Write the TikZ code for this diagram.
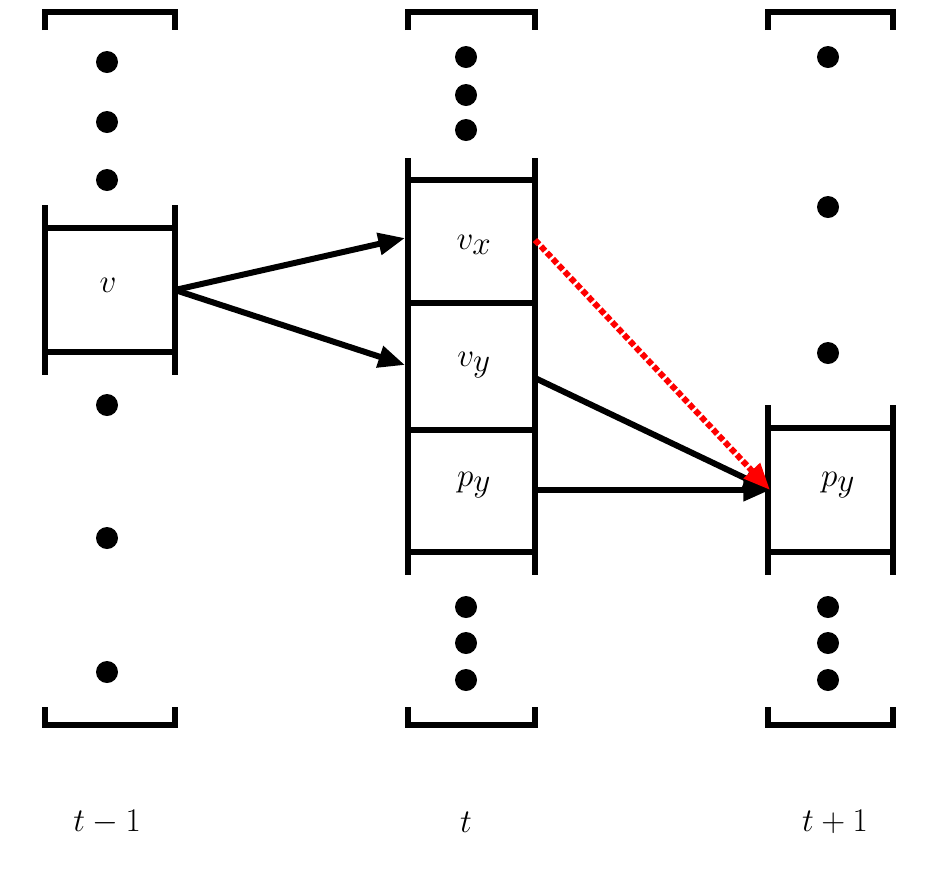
\documentclass[tikz,border=0pt]{standalone}
\usetikzlibrary{arrows.meta}
\tikzset{
  ln/.style={line width=5.2pt},
  dt/.style={fill=black},
  lbl/.style={font=\fontsize{60}{70}\selectfont, inner sep=0pt},
  arr/.style={line width=4.5pt,-{Triangle[length=20pt,width=16pt]}},
  redarr/.style={line width=4.5pt,red,dotted,-{Triangle[length=20pt,width=16pt]}}
}
\begin{document}
\begin{tikzpicture}[x=0.75pt,y=-0.75pt]
\useasboundingbox (0,0) rectangle (944,876);
% brackets
\foreach \a/\b in {45/175,408/535,768/893}{
  \draw[ln] (\a,30) -- (\a,12) -- (\b,12) -- (\b,30);
  \draw[ln] (\a,707) -- (\a,725) -- (\b,725) -- (\b,707);
}
% column 1
\foreach \y in {62,122,180,405,538,672} \fill[dt] (107,\y) circle (11);
\draw[ln] (45,205) -- (45,375); \draw[ln] (175,205) -- (175,375);
\draw[ln] (45,228) -- (175,228); \draw[ln] (45,352) -- (175,352);
\node[lbl] (v) at (108,285) {$v$};
\coordinate (vout) at (175,290);
% column 2
\foreach \y in {57,95,130,607,643,680} \fill[dt] (466,\y) circle (11);
\draw[ln] (408,158) -- (408,575); \draw[ln] (535,158) -- (535,575);
\foreach \y in {180,303,430,552} \draw[ln] (408,\y) -- (535,\y);
\node[lbl] (vx) at (474,245) {$v_x$};
\node[lbl] (vy) at (474,365) {$v_y$};
\node[lbl] (py) at (474,485) {$p_y$};
\coordinate (vxin) at (405,238);
\coordinate (vyin) at (405,365);
\coordinate (vxout) at (535,240);
\coordinate (vyout) at (535,378);
\coordinate (pyout) at (535,490);
% column 3
\foreach \y in {57,207,353,607,643,680} \fill[dt] (828,\y) circle (11);
\draw[ln] (768,405) -- (768,575); \draw[ln] (893,405) -- (893,575);
\draw[ln] (768,428) -- (893,428); \draw[ln] (768,552) -- (893,552);
\node[lbl] (py2) at (838,485) {$p_y$};
\coordinate (pyin) at (770,490);
% arrows
\draw[arr] (vout) -- (vxin);
\draw[arr] (vout) -- (vyin);
\draw[arr] (vyout) -- (pyin);
\draw[arr] (pyout) -- (pyin);
\draw[redarr] (vxout) -- (pyin);
% labels
\node[lbl] (l1) at (107,822) {$t-1$};
\node[lbl] (l2) at (466,822) {$t$};
\node[lbl] (l3) at (835,822) {$t+1$};
\end{tikzpicture}
\end{document}
